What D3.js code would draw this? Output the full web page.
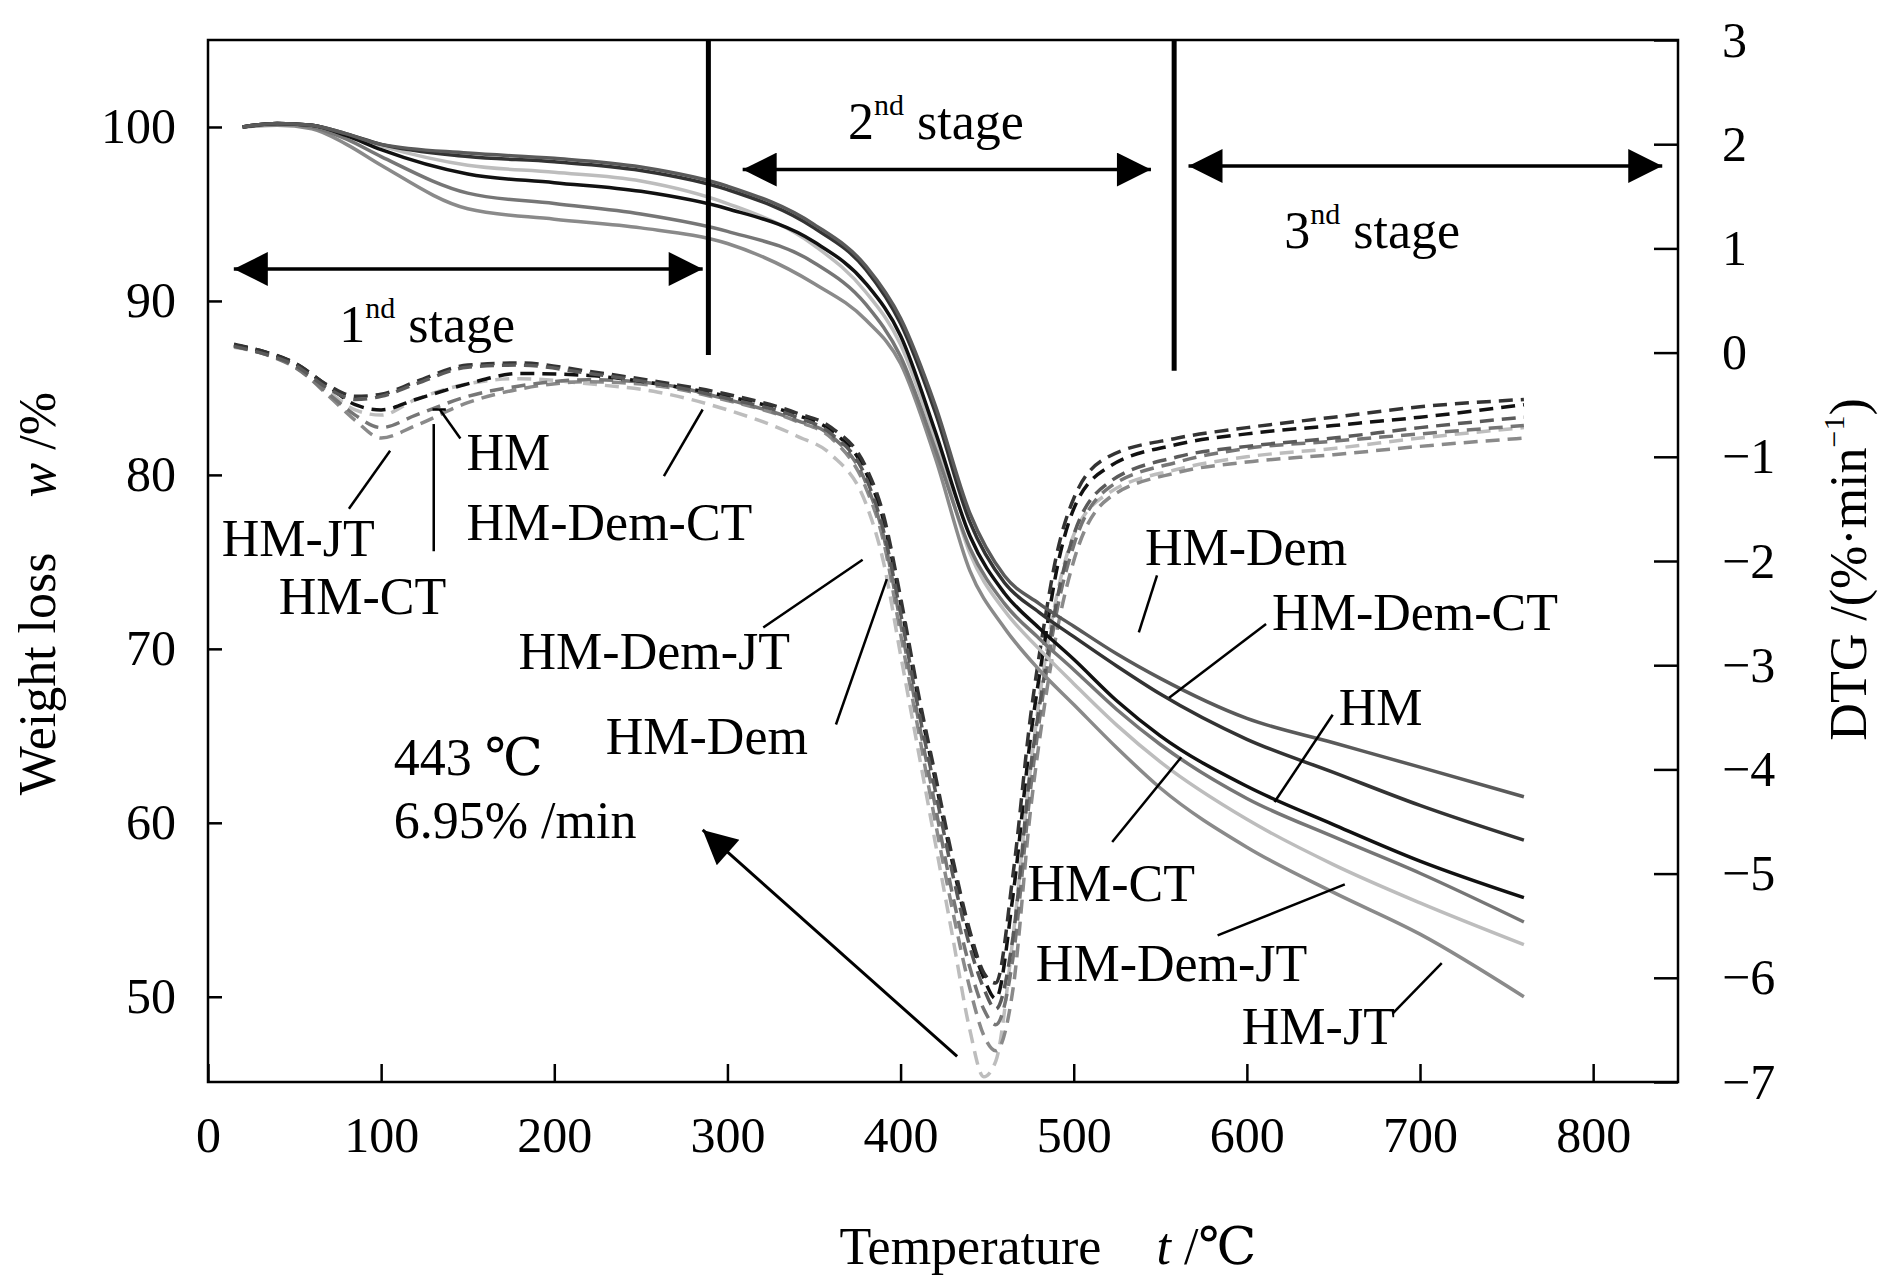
<!DOCTYPE html>
<html><head><meta charset="utf-8">
<script src="https://cdn.jsdelivr.net/npm/d3@7"></script>
<style>body{margin:0;background:#fff}svg{font-family:"Liberation Serif","DejaVu Serif",serif}</style>
</head><body>
<svg id="c" width="1890" height="1276"></svg>
<script>
// ---- data ----
const tgTemps = [20,40,60,80,100,150,200,250,300,350,380,400,420,440,460,480,500,525,550,600,650,700,760];
const tgHMDem   = [100,100.2,100.1,99.6,99,98.5,98.2,97.7,96.6,94.4,92,89,84,77.8,74.2,72.6,71.3,69.7,68.3,66.0,64.6,63.2,61.5];
const tgHMDemCT = [100,100.2,100.1,99.6,99,98.3,98,97.5,96.4,94.2,91.8,88.7,83.6,77.3,73.8,72.1,70.7,69.0,67.4,64.8,62.9,61.0,59];
const tgHM      = [100,100.2,100.1,99.5,98.7,97.3,96.8,96.3,95.3,93.4,91,88,82.5,76.5,73.2,71.2,69.4,67.0,65.0,62.1,59.9,57.8,55.7];
const tgHMCT    = [100,100.2,100,99.3,98.3,96.2,95.6,95,94,92.2,89.8,86.8,81.5,75.8,72.6,70.6,68.8,66.5,64.5,61.4,59.2,57.1,54.3];
const tgHMDemJT = [100,100.2,100.1,99.5,98.9,97.8,97.4,96.9,95.6,93.2,90.5,87.5,82,75.5,72.2,70.0,68.0,65.6,63.5,60.2,57.6,55.4,53];
const tgHMJT    = [100,100.1,99.9,99,97.8,95.3,94.7,94.2,93.3,91,88.9,86.4,81,74.5,71.2,68.8,66.8,64.3,62.0,58.6,56,53.6,50];

const dtgTemps = [15,30,50,70,85,100,120,150,180,220,260,300,340,360,380,390,400,410,420,430,440,448,455,465,475,483,490,500,520,560,600,650,700,760];
const dtgHM      = [0.07,0.02,-0.1,-0.33,-0.5,-0.55,-0.45,-0.3,-0.2,-0.22,-0.3,-0.42,-0.6,-0.75,-1.15,-1.6,-2.4,-3.3,-4.1,-4.9,-5.6,-6.0,-6.2,-5.2,-3.7,-2.8,-2.1,-1.5,-1.1,-0.88,-0.78,-0.7,-0.62,-0.5];
const dtgHMDem   = [0.06,0.0,-0.12,-0.35,-0.45,-0.42,-0.3,-0.14,-0.12,-0.2,-0.3,-0.44,-0.62,-0.78,-1.2,-1.7,-2.5,-3.4,-4.2,-5.0,-5.7,-6.1,-6.3,-5.6,-4.0,-3.1,-2.4,-1.75,-1.25,-1.0,-0.9,-0.82,-0.72,-0.62];
const dtgHMDemCT = [0.08,0.02,-0.1,-0.32,-0.42,-0.4,-0.28,-0.12,-0.1,-0.18,-0.28,-0.4,-0.58,-0.72,-1.1,-1.55,-2.35,-3.25,-4.05,-4.85,-5.55,-5.95,-6.05,-5.0,-3.5,-2.6,-1.95,-1.4,-1.0,-0.82,-0.72,-0.62,-0.52,-0.45];
const dtgHMCT    = [0.06,0.0,-0.14,-0.4,-0.6,-0.72,-0.6,-0.42,-0.32,-0.26,-0.3,-0.45,-0.65,-0.8,-1.25,-1.75,-2.6,-3.5,-4.35,-5.2,-5.9,-6.3,-6.45,-5.8,-4.2,-3.2,-2.5,-1.85,-1.3,-1.05,-0.92,-0.85,-0.78,-0.7];
const dtgHMDemJT = [0.05,0.0,-0.12,-0.38,-0.55,-0.6,-0.45,-0.3,-0.25,-0.3,-0.38,-0.55,-0.8,-0.98,-1.45,-2.0,-2.9,-3.8,-4.7,-5.6,-6.5,-6.95,-6.8,-5.6,-4.0,-3.0,-2.35,-1.75,-1.35,-1.12,-1.0,-0.92,-0.82,-0.72];
const dtgHMJT    = [0.07,0.01,-0.13,-0.42,-0.65,-0.82,-0.7,-0.48,-0.35,-0.28,-0.32,-0.46,-0.66,-0.82,-1.3,-1.8,-2.7,-3.6,-4.5,-5.35,-6.1,-6.55,-6.7,-6.1,-4.4,-3.4,-2.7,-2.0,-1.4,-1.15,-1.05,-0.98,-0.9,-0.82];

const seriesNames  = ["HM","HM-Dem","HM-Dem-CT","HM-CT","HM-Dem-JT","HM-JT"];
const seriesColors = ["#111111","#5a5a5a","#333333","#767676","#bdbdbd","#8a8a8a"];
const tgSeries  = [tgHM,tgHMDem,tgHMDemCT,tgHMCT,tgHMDemJT,tgHMJT];
const dtgSeries = [dtgHM,dtgHMDem,dtgHMDemCT,dtgHMCT,dtgHMDemJT,dtgHMJT];

const xTicks = [0,100,200,300,400,500,600,700,800];
const yLeftTicks = [50,60,70,80,90,100];
const yRightTicks = [3,2,1,0,-1,-2,-3,-4,-5,-6,-7];

// ---- layout ----
const k = 1890/1560;
const L=208, R=1678, T=40, B=1082;
const svg = d3.select("#c");
const x = d3.scaleLinear().domain([0,849]).range([L,R]);
const yL = d3.scaleLinear().domain([45.1,105]).range([B,T]);
const yR = d3.scaleLinear().domain([-7,3]).range([B,T]);
const P = v=>v*k;

svg.append("rect").attr("x",L).attr("y",T).attr("width",R-L).attr("height",B-T)
  .attr("fill","none").attr("stroke","#000").attr("stroke-width",2.5);

const fs = 50;
svg.append("g").attr("transform",`translate(0,${B})`)
  .call(d3.axisBottom(x).tickValues(xTicks).tickSize(-18).tickPadding(34).tickFormat(d3.format("d")))
  .call(g=>{g.select(".domain").remove();g.selectAll("line").attr("stroke-width",2.5);
    g.selectAll("text").attr("font-size",fs).attr("font-family","Liberation Serif").attr("fill","#000");});
svg.append("g").attr("transform",`translate(${L},0)`)
  .call(d3.axisLeft(yL).tickValues(yLeftTicks).tickSize(-14).tickPadding(32))
  .call(g=>{g.select(".domain").remove();g.selectAll("line").attr("stroke-width",2.5);
    g.selectAll("text").attr("font-size",fs).attr("font-family","Liberation Serif").attr("fill","#000");});
svg.append("g").attr("transform",`translate(${R},0)`)
  .call(d3.axisRight(yR).tickValues(yRightTicks).tickSize(-24).tickPadding(44).tickFormat(d=>d<0?"\u2212"+(-d):d))
  .call(g=>{g.select(".domain").remove();g.selectAll("line").attr("stroke-width",2.5);
    g.selectAll("text").attr("font-size",fs).attr("font-family","Liberation Serif").attr("fill","#000");});

svg.append("clipPath").attr("id","cp").append("rect").attr("x",L).attr("y",T).attr("width",R-L).attr("height",B-T);
const gC = svg.append("g").attr("clip-path","url(#cp)");
const lineTG = d3.line().x((d,i)=>x(tgTemps[i])).y(d=>yL(d)).curve(d3.curveMonotoneX);
const lineDTG = d3.line().x((d,i)=>x(dtgTemps[i])).y(d=>yR(d)).curve(d3.curveMonotoneX);
const order=[4,5,3,0,2,1];
order.forEach(i=>{
  gC.append("path").attr("d",lineDTG(dtgSeries[i])).attr("fill","none").attr("stroke",seriesColors[i])
    .attr("stroke-width",3.5).attr("stroke-dasharray","14,8");
});
order.forEach(i=>{
  gC.append("path").attr("d",lineTG(tgSeries[i])).attr("fill","none").attr("stroke",seriesColors[i]).attr("stroke-width",3.5);
});

svg.append("line").attr("x1",x(289)).attr("x2",x(289)).attr("y1",T).attr("y2",P(293)).attr("stroke","#000").attr("stroke-width",5);
svg.append("line").attr("x1",x(558)).attr("x2",x(558)).attr("y1",T).attr("y2",P(306)).attr("stroke","#000").attr("stroke-width",5);

svg.append("defs").append("marker").attr("id","ah").attr("viewBox","0 0 10 10").attr("refX",10).attr("refY",5)
  .attr("markerWidth",40).attr("markerHeight",34).attr("markerUnits","userSpaceOnUse").attr("orient","auto-start-reverse")
  .append("path").attr("d","M0,0L10,5L0,10z").attr("fill","#000");
function dblArrow(x1,x2,y){svg.append("line").attr("x1",P(x1)).attr("x2",P(x2)).attr("y1",P(y)).attr("y2",P(y))
  .attr("stroke","#000").attr("stroke-width",3.5).attr("marker-start","url(#ah)").attr("marker-end","url(#ah)");}
dblArrow(193,580,222); dblArrow(613,950,140); dblArrow(981,1372,137);

function stage(xp,yp,num,sup){
  const t=svg.append("text").attr("x",P(xp)).attr("y",P(yp)).attr("font-size",52);
  t.append("tspan").text(num);
  t.append("tspan").attr("font-size",30).attr("dy",-24).text(sup);
  t.append("tspan").attr("dy",24).text(" stage");
}
stage(280,282,"1","nd"); stage(700,115,"2","nd"); stage(1060,205,"3","nd");

function lab(txt,xp,yp){svg.append("text").attr("x",P(xp)).attr("y",P(yp)).attr("font-size",52).text(txt);}
function ln(x1,y1,x2,y2){svg.append("line").attr("x1",P(x1)).attr("y1",P(y1)).attr("x2",P(x2)).attr("y2",P(y2)).attr("stroke","#000").attr("stroke-width",2.5);}
lab("HM-JT",183,459); ln(288,420,322,372);
lab("HM-CT",230,507); ln(358,455,358,350);
lab("HM",385,388); ln(380,362,363,338); ln(357,338,368,338);
lab("HM-Dem-CT",385,446); ln(548,393,580,338);
lab("HM-Dem-JT",428,552); ln(630,518,712,462);
lab("HM-Dem",500,622); ln(690,598,732,478);
lab("443 \u2103",325,640); lab("6.95% /min",325,692);
svg.append("line").attr("x1",P(790)).attr("y1",P(872)).attr("x2",P(580)).attr("y2",P(685))
  .attr("stroke","#000").attr("stroke-width",3).attr("marker-end","url(#ah)");
lab("HM-Dem",945,466); ln(940,522,955,475);
lab("HM-Dem-CT",1050,520); ln(965,576,1045,515);
lab("HM",1105,598); ln(1052,662,1100,590);
lab("HM-CT",848,744); ln(918,695,975,625);
lab("HM-Dem-JT",855,810); ln(1005,772,1110,730);
lab("HM-JT",1025,862); ln(1150,836,1190,795);

const tt=svg.append("text").attr("x",P(865)).attr("y",P(1043)).attr("text-anchor","middle").attr("font-size",52);
tt.append("tspan").text("Temperature");tt.append("tspan").attr("font-style","italic").attr("dx",55).text("t");tt.append("tspan").text(" /\u2103");
const wl=svg.append("text").attr("transform",`translate(${P(45)},${P(490)}) rotate(-90)`).attr("text-anchor","middle").attr("font-size",52);
wl.append("tspan").text("Weight loss");wl.append("tspan").attr("font-style","italic").attr("dx",55).text("w");wl.append("tspan").text(" /%");
const dt=svg.append("text").attr("transform",`translate(${P(1540)},${P(470)}) rotate(-90)`).attr("text-anchor","middle").attr("font-size",52);
dt.append("tspan").text("DTG  /(%\u00B7min");dt.append("tspan").attr("font-size",30).attr("dy",-22).text("\u22121");dt.append("tspan").attr("dy",22).text(")");
</script>
</body></html>
